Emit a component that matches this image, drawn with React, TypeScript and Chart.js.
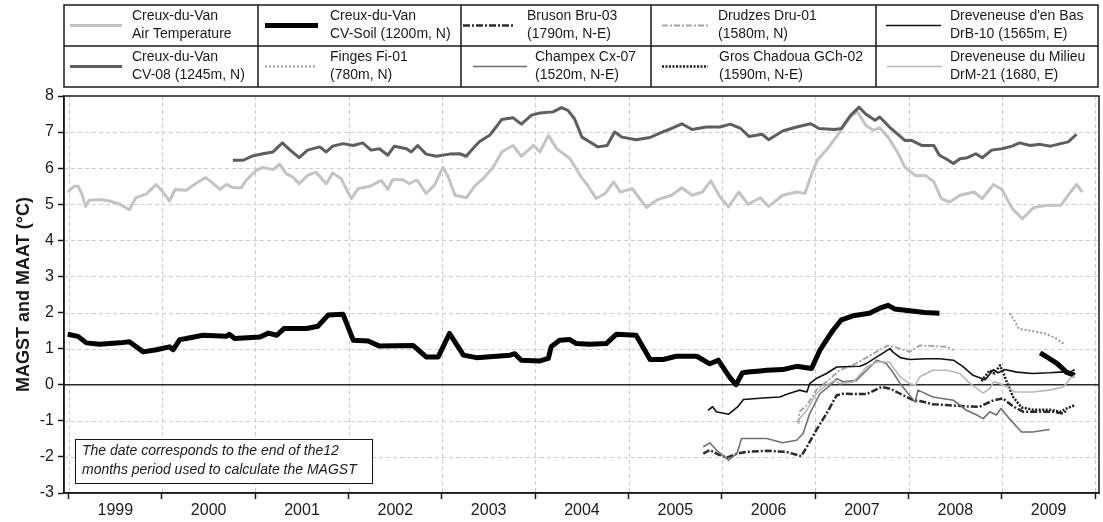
import React, { useEffect, useRef } from 'react';
import { Chart, registerables } from 'chart.js';

Chart.register(...registerables);

const FONT = '"Liberation Sans", Arial, Helvetica, sans-serif';

type P = [number, number];

// ---- axis definitions ----
const xMin = 1998.95;
const xMax = 2010.04;
const yearBoundaries = [1999, 2000, 2001, 2002, 2003, 2004, 2005, 2006, 2007, 2008, 2009, 2010];
const yearLabels = ['1999', '2000', '2001', '2002', '2003', '2004', '2005', '2006', '2007', '2008', '2009'];
const yTickValues = [-3, -2, -1, 0, 1, 2, 3, 4, 5, 6, 7, 8];
const yTitle = 'MAGST and MAAT (°C)';

// ---- legend texts ----
const legendLine1 = [
  'Creux-du-Van', 'Creux-du-Van', 'Bruson Bru-03', 'Drudzes Dru-01', "Dreveneuse d'en Bas",
  'Creux-du-Van', 'Finges Fi-01', 'Champex Cx-07', 'Gros Chadoua GCh-02', 'Dreveneuse du Milieu',
];
const legendLine2 = [
  'Air Temperature', 'CV-Soil (1200m, N)', '(1790m, N-E)', '(1580m, N)', 'DrB-10 (1565m, E)',
  'CV-08 (1245m, N)', '(780m, N)', '(1520m, N-E)', '(1590m, N-E)', 'DrM-21 (1680, E)',
];

const noteLines = [
  'The date corresponds to the end of the12',
  'months period used to calculate the MAGST',
];

// ---- series values [decimal year, °C] ----
const airTemp: P[] = [
  [1998.99, 5.34], [1999.06, 5.5], [1999.1, 5.5], [1999.14, 5.3], [1999.18, 4.94], [1999.22, 5.11],
  [1999.33, 5.13], [1999.44, 5.09], [1999.55, 5.0], [1999.65, 4.85], [1999.72, 5.18], [1999.83, 5.28],
  [1999.94, 5.55], [2000.01, 5.34], [2000.08, 5.09], [2000.14, 5.41], [2000.26, 5.39], [2000.37, 5.59],
  [2000.47, 5.74], [2000.55, 5.57], [2000.62, 5.41], [2000.69, 5.55], [2000.76, 5.46], [2000.85, 5.46],
  [2000.9, 5.66], [2001.01, 5.94], [2001.08, 6.02], [2001.19, 5.96], [2001.26, 6.11], [2001.33, 5.85],
  [2001.4, 5.76], [2001.47, 5.57], [2001.56, 5.8], [2001.65, 5.89], [2001.76, 5.57], [2001.83, 5.87],
  [2001.92, 5.71], [2001.98, 5.39], [2002.03, 5.16], [2002.1, 5.43], [2002.23, 5.5], [2002.35, 5.66],
  [2002.42, 5.41], [2002.47, 5.68], [2002.58, 5.68], [2002.65, 5.57], [2002.73, 5.68], [2002.83, 5.3],
  [2002.92, 5.53], [2003.01, 6.02], [2003.06, 5.8], [2003.14, 5.25], [2003.26, 5.18], [2003.35, 5.5],
  [2003.44, 5.71], [2003.55, 6.03], [2003.64, 6.45], [2003.76, 6.63], [2003.85, 6.33], [2003.98, 6.63],
  [2004.05, 6.45], [2004.14, 6.91], [2004.23, 6.54], [2004.37, 6.27], [2004.49, 5.76], [2004.56, 5.53],
  [2004.65, 5.16], [2004.75, 5.3], [2004.84, 5.62], [2004.91, 5.34], [2005.04, 5.43], [2005.19, 4.91],
  [2005.31, 5.13], [2005.46, 5.25], [2005.57, 5.46], [2005.68, 5.25], [2005.79, 5.34], [2005.88, 5.65],
  [2005.98, 5.2], [2006.07, 4.93], [2006.18, 5.34], [2006.28, 5.0], [2006.41, 5.18], [2006.5, 4.94],
  [2006.65, 5.25], [2006.8, 5.34], [2006.89, 5.3], [2006.95, 5.76], [2007.02, 6.22], [2007.13, 6.54],
  [2007.25, 6.95], [2007.36, 7.37], [2007.45, 7.58], [2007.54, 7.19], [2007.62, 7.05], [2007.69, 7.12],
  [2007.79, 6.82], [2007.88, 6.45], [2007.96, 6.03], [2008.07, 5.8], [2008.18, 5.8], [2008.27, 5.62],
  [2008.35, 5.16], [2008.44, 5.06], [2008.55, 5.25], [2008.7, 5.34], [2008.79, 5.16], [2008.91, 5.55],
  [2009.0, 5.41], [2009.11, 4.88], [2009.22, 4.6], [2009.34, 4.91], [2009.48, 4.97], [2009.63, 4.97],
  [2009.75, 5.39], [2009.8, 5.55], [2009.86, 5.34],
];

const cv08: P[] = [
  [2000.76, 6.22], [2000.87, 6.22], [2000.96, 6.33], [2001.08, 6.4], [2001.19, 6.45], [2001.29, 6.7],
  [2001.37, 6.51], [2001.47, 6.29], [2001.56, 6.5], [2001.69, 6.59], [2001.76, 6.45], [2001.83, 6.61],
  [2001.94, 6.68], [2002.05, 6.63], [2002.15, 6.7], [2002.24, 6.5], [2002.33, 6.54], [2002.42, 6.36],
  [2002.49, 6.61], [2002.62, 6.54], [2002.67, 6.45], [2002.74, 6.63], [2002.83, 6.39], [2002.94, 6.33],
  [2003.08, 6.39], [2003.19, 6.4], [2003.26, 6.33], [2003.33, 6.54], [2003.4, 6.73], [2003.51, 6.91],
  [2003.58, 7.14], [2003.64, 7.35], [2003.76, 7.4], [2003.85, 7.22], [2003.96, 7.47], [2004.05, 7.53],
  [2004.19, 7.56], [2004.28, 7.68], [2004.35, 7.6], [2004.42, 7.37], [2004.5, 6.86], [2004.58, 6.73],
  [2004.67, 6.59], [2004.77, 6.63], [2004.85, 7.0], [2004.93, 6.86], [2005.08, 6.79], [2005.23, 6.85],
  [2005.34, 6.98], [2005.46, 7.1], [2005.57, 7.23], [2005.68, 7.07], [2005.83, 7.14], [2005.98, 7.14],
  [2006.09, 7.22], [2006.2, 7.1], [2006.29, 6.88], [2006.43, 6.94], [2006.5, 6.79], [2006.65, 7.03],
  [2006.8, 7.14], [2006.95, 7.23], [2007.04, 7.1], [2007.21, 7.07], [2007.28, 7.1], [2007.38, 7.47],
  [2007.47, 7.69], [2007.54, 7.5], [2007.64, 7.33], [2007.69, 7.42], [2007.81, 7.1], [2007.96, 6.77],
  [2008.03, 6.77], [2008.14, 6.63], [2008.27, 6.63], [2008.33, 6.36], [2008.4, 6.26], [2008.48, 6.13],
  [2008.55, 6.26], [2008.63, 6.29], [2008.72, 6.4], [2008.79, 6.29], [2008.89, 6.5], [2009.0, 6.54],
  [2009.11, 6.61], [2009.19, 6.7], [2009.3, 6.63], [2009.41, 6.66], [2009.52, 6.61], [2009.63, 6.68],
  [2009.71, 6.73], [2009.8, 6.94],
];

const cvSoil: P[] = [
  [1998.99, 1.4], [1999.1, 1.34], [1999.19, 1.16], [1999.33, 1.12], [1999.55, 1.16], [1999.65, 1.19],
  [1999.8, 0.91], [1999.94, 0.97], [2000.08, 1.05], [2000.12, 0.97], [2000.19, 1.25], [2000.26, 1.28],
  [2000.44, 1.37], [2000.69, 1.34], [2000.72, 1.4], [2000.78, 1.28], [2001.05, 1.32], [2001.14, 1.43],
  [2001.23, 1.37], [2001.31, 1.56], [2001.55, 1.56], [2001.67, 1.62], [2001.78, 1.93], [2001.94, 1.95],
  [2002.05, 1.23], [2002.21, 1.21], [2002.33, 1.07], [2002.69, 1.09], [2002.83, 0.77], [2002.96, 0.77],
  [2003.08, 1.42], [2003.23, 0.82], [2003.37, 0.75], [2003.73, 0.82], [2003.78, 0.86], [2003.85, 0.68],
  [2004.05, 0.66], [2004.14, 0.73], [2004.17, 1.05], [2004.26, 1.23], [2004.37, 1.25], [2004.44, 1.14],
  [2004.58, 1.12], [2004.76, 1.14], [2004.87, 1.4], [2005.08, 1.37], [2005.23, 0.7], [2005.37, 0.7],
  [2005.51, 0.79], [2005.73, 0.79], [2005.87, 0.58], [2005.96, 0.68], [2006.08, 0.22], [2006.15, 0.0],
  [2006.22, 0.33], [2006.28, 0.35], [2006.41, 0.38], [2006.48, 0.4], [2006.65, 0.42], [2006.8, 0.51],
  [2006.96, 0.45], [2007.05, 0.96], [2007.14, 1.32], [2007.19, 1.51], [2007.28, 1.8], [2007.42, 1.92],
  [2007.58, 1.98], [2007.69, 2.12], [2007.78, 2.2], [2007.85, 2.1], [2008.01, 2.05], [2008.17, 2.0],
  [2008.33, 1.98],
];
const cvSoilLate: P[] = [
  [2009.41, 0.88], [2009.48, 0.77], [2009.59, 0.59], [2009.69, 0.35], [2009.78, 0.26],
];

const bruson: P[] = [
  [2005.8, -1.91], [2005.87, -1.81], [2005.96, -1.93], [2006.05, -2.02], [2006.16, -1.91], [2006.26, -1.86],
  [2006.48, -1.83], [2006.69, -1.86], [2006.85, -1.98], [2006.91, -1.72], [2007.01, -1.26], [2007.12, -0.8],
  [2007.23, -0.29], [2007.3, -0.25], [2007.55, -0.26], [2007.71, -0.06], [2007.8, -0.11], [2007.91, -0.25],
  [2008.05, -0.43], [2008.12, -0.45], [2008.26, -0.54], [2008.44, -0.57], [2008.62, -0.6], [2008.76, -0.61],
  [2008.91, -0.43], [2009.01, -0.38], [2009.12, -0.6], [2009.23, -0.75], [2009.41, -0.75], [2009.55, -0.75],
  [2009.66, -0.8], [2009.69, -0.71],
];

const drudzes: P[] = [
  [2006.82, -1.08], [2006.83, -0.75], [2006.91, -0.57], [2007.01, -0.15], [2007.12, 0.08], [2007.26, 0.4],
  [2007.44, 0.59], [2007.62, 0.86], [2007.78, 1.09], [2007.91, 1.0], [2008.01, 0.91], [2008.12, 1.09],
  [2008.26, 1.07], [2008.41, 1.05], [2008.48, 0.96],
];

const drb10: P[] = [
  [2005.85, -0.71], [2005.9, -0.61], [2005.94, -0.75], [2006.07, -0.82], [2006.17, -0.61], [2006.23, -0.41],
  [2006.48, -0.36], [2006.62, -0.34], [2006.71, -0.25], [2006.83, -0.15], [2006.91, -0.2], [2006.94, 0.03],
  [2007.01, 0.17], [2007.12, 0.31], [2007.23, 0.49], [2007.48, 0.51], [2007.55, 0.59], [2007.66, 0.77],
  [2007.8, 1.0], [2007.83, 0.91], [2007.91, 0.75], [2008.01, 0.7], [2008.19, 0.72], [2008.33, 0.72],
  [2008.48, 0.68], [2008.58, 0.51], [2008.69, 0.26], [2008.82, 0.14], [2008.91, 0.42], [2008.96, 0.33],
  [2009.03, 0.42], [2009.16, 0.35], [2009.33, 0.31], [2009.51, 0.33], [2009.62, 0.35], [2009.73, 0.35],
  [2009.78, 0.42],
];

const finges: P[] = [
  [2009.08, 1.98], [2009.13, 1.8], [2009.18, 1.55], [2009.3, 1.5], [2009.46, 1.42], [2009.57, 1.3],
  [2009.67, 1.12],
];

const champex: P[] = [
  [2005.8, -1.72], [2005.87, -1.61], [2005.94, -1.81], [2006.07, -2.09], [2006.16, -1.91], [2006.21, -1.49],
  [2006.48, -1.49], [2006.65, -1.61], [2006.8, -1.54], [2006.87, -1.35], [2006.94, -0.8], [2007.05, -0.25],
  [2007.14, -0.06], [2007.23, 0.17], [2007.3, 0.08], [2007.44, 0.12], [2007.55, 0.4], [2007.66, 0.68],
  [2007.76, 0.59], [2007.83, 0.35], [2007.91, 0.03], [2008.01, -0.29], [2008.07, -0.48], [2008.1, -0.15],
  [2008.26, -0.34], [2008.48, -0.43], [2008.62, -0.71], [2008.73, -0.84], [2008.8, -0.94], [2008.87, -0.75],
  [2008.94, -0.84], [2008.99, -0.66], [2009.08, -0.94], [2009.21, -1.31], [2009.33, -1.31], [2009.51, -1.24],
];

const gch02: P[] = [
  [2008.78, 0.1], [2008.87, 0.4], [2008.92, 0.31], [2008.98, 0.54], [2009.03, 0.22], [2009.12, -0.34],
  [2009.21, -0.63], [2009.33, -0.69], [2009.51, -0.69], [2009.62, -0.75], [2009.69, -0.66], [2009.78, -0.57],
];

const drm21: P[] = [
  [2006.8, -1.03], [2006.91, -0.71], [2007.01, -0.25], [2007.12, -0.01], [2007.21, 0.12], [2007.26, 0.03],
  [2007.41, 0.08], [2007.55, 0.49], [2007.66, 0.63], [2007.8, 0.63], [2007.83, 0.49], [2007.91, 0.22],
  [2008.01, 0.03], [2008.07, -0.01], [2008.12, 0.22], [2008.26, 0.4], [2008.41, 0.4], [2008.55, 0.31],
  [2008.66, 0.03], [2008.8, -0.23], [2008.87, -0.11], [2008.91, 0.08], [2008.98, 0.03], [2009.05, -0.06],
  [2009.14, -0.2], [2009.33, -0.2], [2009.51, -0.15], [2009.66, -0.06], [2009.73, 0.17], [2009.78, 0.26],
];

const toXY = (arr: P[]) => arr.map(([x, y]) => ({ x, y }));

type SeriesStyle = { color: string; width: number; dash: number[] };

// legend cell layout (pixels)
const colEdges = [64, 258, 461, 651, 876, 1098];
const rowEdges = [5, 46, 87];
const sampleRow1 = [[70, 122, 132], [265, 318, 330], [463, 513, 527], [662, 708, 718], [886, 941, 950]];
const sampleRow2 = [[70, 122, 132], [265, 317, 330], [473, 527, 535], [662, 708, 719], [887, 942, 950]];

const overlayPlugin = {
  id: 'overlay',
  beforeDatasetsDraw(chart: any) {
    const { ctx, chartArea: a, scales } = chart;
    ctx.save();
    // dashed grid
    ctx.strokeStyle = '#cdcdcd';
    ctx.lineWidth = 1;
    ctx.setLineDash([4, 3]);
    ctx.beginPath();
    yearBoundaries.forEach((v) => {
      const px = Math.round(scales.x.getPixelForValue(v)) + 0.5;
      if (px > a.left + 2 && px < a.right - 2) {
        ctx.moveTo(px, a.top);
        ctx.lineTo(px, a.bottom);
      }
    });
    yTickValues.forEach((v) => {
      if (v === 0) return;
      const py = Math.round(scales.y.getPixelForValue(v)) + 0.5;
      if (py > a.top + 2 && py < a.bottom - 2) {
        ctx.moveTo(a.left, py);
        ctx.lineTo(a.right, py);
      }
    });
    ctx.stroke();
    ctx.setLineDash([]);
    // zero line
    const y0 = scales.y.getPixelForValue(0);
    ctx.strokeStyle = '#2a2a2a';
    ctx.lineWidth = 1.5;
    ctx.beginPath();
    ctx.moveTo(a.left, y0);
    ctx.lineTo(a.right, y0);
    ctx.stroke();
    ctx.restore();
  },
  afterDraw(chart: any) {
    const { ctx, chartArea: a } = chart;
    ctx.save();
    // plot frame
    ctx.strokeStyle = '#1a1a1a';
    ctx.lineWidth = 1.5;
    ctx.strokeRect(a.left, a.top, a.right - a.left, a.bottom - a.top);

    // legend table
    ctx.fillStyle = '#ffffff';
    ctx.fillRect(colEdges[0], rowEdges[0], colEdges[5] - colEdges[0], rowEdges[2] - rowEdges[0]);
    ctx.strokeStyle = '#1a1a1a';
    ctx.lineWidth = 1.5;
    ctx.strokeRect(colEdges[0], rowEdges[0], colEdges[5] - colEdges[0], rowEdges[2] - rowEdges[0]);
    ctx.beginPath();
    ctx.moveTo(colEdges[0], rowEdges[1]);
    ctx.lineTo(colEdges[5], rowEdges[1]);
    for (let c = 1; c < 5; c++) {
      ctx.moveTo(colEdges[c], rowEdges[0]);
      ctx.lineTo(colEdges[c], rowEdges[2]);
    }
    ctx.stroke();

    const datasets = chart.data.datasets;
    ctx.font = `14px ${FONT}`;
    ctx.textBaseline = 'middle';
    ctx.textAlign = 'left';
    for (let i = 0; i < 10; i++) {
      const row = i < 5 ? 0 : 1;
      const col = i % 5;
      const layout = row === 0 ? sampleRow1[col] : sampleRow2[col];
      const cy = (rowEdges[row] + rowEdges[row + 1]) / 2;
      const ds = datasets[i];
      ctx.save();
      ctx.strokeStyle = ds.borderColor;
      ctx.lineWidth = ds.borderWidth;
      ctx.setLineDash(ds.borderDash || []);
      ctx.lineCap = 'butt';
      ctx.beginPath();
      ctx.moveTo(layout[0], cy);
      ctx.lineTo(layout[1], cy);
      ctx.stroke();
      ctx.restore();
      ctx.fillStyle = '#1a1a1a';
      ctx.fillText(legendLine1[i], layout[2], cy - 9);
      ctx.fillText(legendLine2[i], layout[2], cy + 9);
    }

    // note box
    const bx = 75, by = 439, bw = 297, bh = 44;
    ctx.fillStyle = '#ffffff';
    ctx.fillRect(bx, by, bw, bh);
    ctx.strokeStyle = '#1a1a1a';
    ctx.lineWidth = 1;
    ctx.strokeRect(bx + 0.5, by + 0.5, bw, bh);
    ctx.fillStyle = '#1a1a1a';
    ctx.font = `italic 14px ${FONT}`;
    ctx.fillText(noteLines[0], bx + 7, by + 12);
    ctx.fillText(noteLines[1], bx + 7, by + 31);
    ctx.restore();
  },
};

export default function App() {
  const ref = useRef<HTMLCanvasElement | null>(null);

  useEffect(() => {
    document.body.style.margin = '0';
    const canvas = ref.current;
    if (!canvas) return;

    const styles: SeriesStyle[] = [
      { color: '#c4c4c4', width: 3, dash: [] },          // air temp
      { color: '#000000', width: 5, dash: [] },          // CV-Soil
      { color: '#2b2b2b', width: 2.5, dash: [7, 2, 2, 2] }, // Bruson
      { color: '#a6a6a6', width: 2, dash: [6, 2, 2, 2] },  // Drudzes
      { color: '#111111', width: 1.6, dash: [] },        // DrB-10
      { color: '#5e5e5e', width: 3, dash: [] },          // CV-08
      { color: '#999999', width: 2, dash: [2, 2] },       // Finges
      { color: '#707070', width: 1.6, dash: [] },        // Champex
      { color: '#1a1a1a', width: 2.5, dash: [2, 1.5] },   // GCh-02
      { color: '#b8b8b8', width: 1.6, dash: [] },        // DrM-21
    ];
    const seriesData = [
      toXY(airTemp),
      [...toXY(cvSoil), { x: 2008.9, y: null as any }, ...toXY(cvSoilLate)],
      toXY(bruson),
      toXY(drudzes),
      toXY(drb10),
      toXY(cv08),
      toXY(finges),
      toXY(champex),
      toXY(gch02),
      toXY(drm21),
    ];
    const drawOrder = [9, 8, 7, 6, 5, 4, 3, 2, 1, 0];

    const chart = new Chart(canvas, {
      type: 'line',
      data: {
        datasets: seriesData.map((d, i) => ({
          label: `${legendLine1[i]} ${legendLine2[i]}`,
          data: d,
          borderColor: styles[i].color,
          backgroundColor: styles[i].color,
          borderWidth: styles[i].width,
          borderDash: styles[i].dash,
          pointRadius: 0,
          pointHoverRadius: 0,
          tension: 0,
          fill: false,
          spanGaps: false,
          borderJoinStyle: 'round',
          order: drawOrder[i],
        })),
      },
      options: {
        responsive: false,
        animation: false,
        devicePixelRatio: 1,
        parsing: false,
        normalized: true,
        events: [],
        layout: { padding: { top: 96, right: 4, left: 0, bottom: 0 } },
        plugins: {
          legend: { display: false },
          tooltip: { enabled: false },
          title: { display: false },
        },
        scales: {
          x: {
            type: 'linear',
            min: xMin,
            max: xMax,
            afterBuildTicks: (scale: any) => {
              const t: { value: number }[] = [];
              yearBoundaries.forEach((v, i) => {
                t.push({ value: v });
                if (i < yearLabels.length) t.push({ value: v + 0.5 });
              });
              scale.ticks = t;
            },
            afterFit: (scale: any) => {
              scale.height = 29;
            },
            ticks: {
              autoSkip: false,
              maxRotation: 0,
              minRotation: 0,
              padding: 2,
              color: '#1a1a1a',
              font: { family: FONT, size: 16 },
              callback: (value: any) => {
                const v = Number(value);
                const idx = Math.round(v - 0.5 - 1999);
                return Math.abs(v - Math.floor(v) - 0.5) < 0.01 ? yearLabels[idx] : '';
              },
            },
            grid: {
              drawOnChartArea: false,
              color: 'rgba(0,0,0,0)',
              tickColor: (ctx: any) => {
                const v = ctx.tick ? ctx.tick.value : 0;
                return Math.abs(v - Math.round(v)) > 0.01 ? 'rgba(0,0,0,0)' : '#1a1a1a';
              },
              tickLength: 6,
              tickWidth: 1.5,
            } as any,
            border: { display: true, color: '#1a1a1a', width: 1.5 },
          },
          y: {
            type: 'linear',
            min: -3,
            max: 8,
            afterBuildTicks: (scale: any) => {
              scale.ticks = yTickValues.map((v) => ({ value: v }));
            },
            afterFit: (scale: any) => {
              scale.width = 64;
            },
            ticks: {
              padding: 4,
              color: '#1a1a1a',
              font: { family: FONT, size: 16 },
              callback: (value: any) => String(value),
            },
            grid: {
              drawOnChartArea: false,
              color: 'rgba(0,0,0,0)',
              tickColor: '#1a1a1a',
              tickLength: 6,
              tickWidth: 1.5,
            } as any,
            border: { display: true, color: '#1a1a1a', width: 1.5 },
            title: {
              display: true,
              text: yTitle,
              color: '#1a1a1a',
              font: { family: FONT, size: 18, weight: 'bold' },
              padding: { top: 13, bottom: 0 },
            },
          },
        },
      },
      plugins: [overlayPlugin],
    } as any);

    return () => {
      chart.destroy();
    };
  }, []);

  return (
    <div style={{ width: 1103, height: 522 }}>
      <canvas ref={ref} width={1103} height={522} style={{ display: 'block', width: 1103, height: 522 }} />
    </div>
  );
}
